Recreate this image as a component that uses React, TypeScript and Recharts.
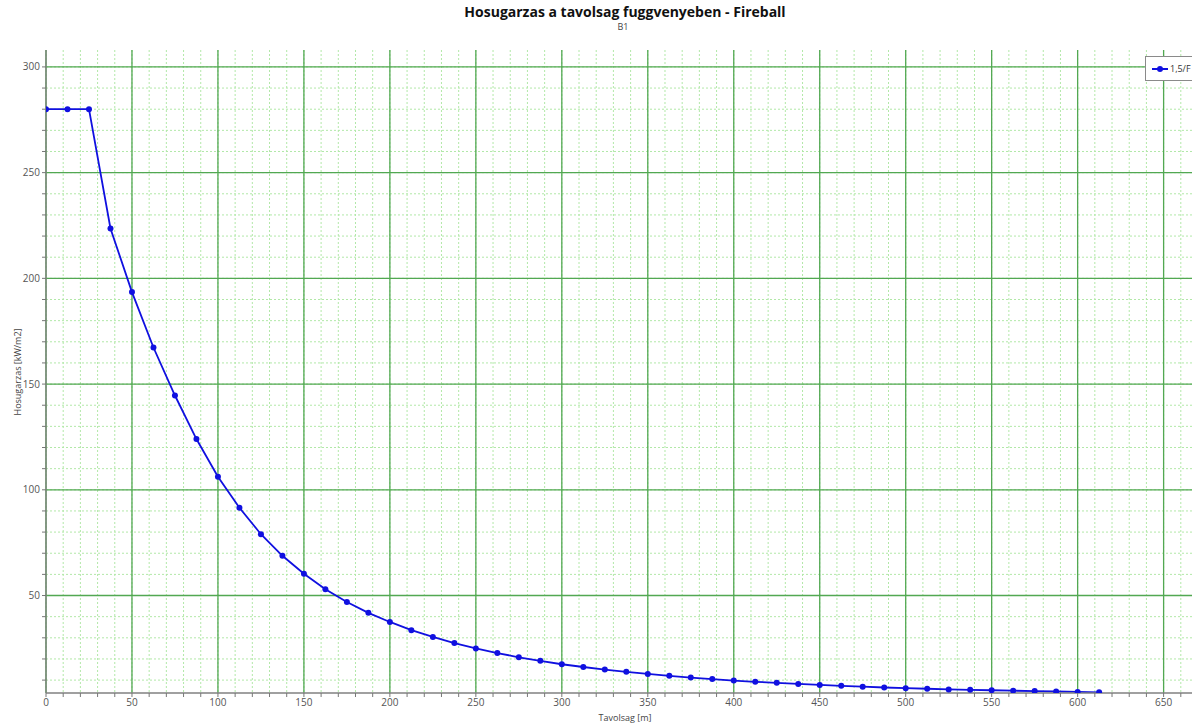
import * as React from "react";
import {
  LineChart,
  Line,
  XAxis,
  YAxis,
  CartesianGrid,
} from "recharts";

// distance [m] and heat radiation [kW/m2] for scenario 1,5/F
const distances = [
  0, 12.5, 25, 37.5, 50, 62.5, 75, 87.5, 100, 112.5,
  125, 137.5, 150, 162.5, 175, 187.5, 200, 212.5, 225, 237.5,
  250, 262.5, 275, 287.5, 300, 312.5, 325, 337.5, 350, 362.5,
  375, 387.5, 400, 412.5, 425, 437.5, 450, 462.5, 475, 487.5,
  500, 512.5, 525, 537.5, 550, 562.5, 575, 587.5, 600, 612.5,
];
const radiation = [
  280, 280, 280, 223.6, 193.5, 167.3, 144.6, 124.0, 106.2, 91.5,
  79.0, 68.8, 60.3, 53.0, 46.9, 41.8, 37.5, 33.6, 30.4, 27.5,
  25.0, 22.8, 20.8, 19.1, 17.5, 16.2, 15.0, 13.9, 12.9, 12.0,
  11.2, 10.5, 9.8, 9.2, 8.7, 8.2, 7.7, 7.3, 6.9, 6.5,
  6.2, 5.9, 5.6, 5.4, 5.2, 5.0, 4.8, 4.6, 4.4, 4.2,
];

const xMajor = [0, 50, 100, 150, 200, 250, 300, 350, 400, 450, 500, 550, 600, 650];
const yMajor = [50, 100, 150, 200, 250, 300];
const xMinor = Array.from({ length: 68 }, (_, i) => i * 10);
const yMinor = Array.from({ length: 30 }, (_, i) => (i + 1) * 10);

const seriesName = "1,5/F";
const title = "Hosugarzas a tavolsag fuggvenyeben - Fireball";
const subtitle = "B1";

const data = distances.map((d, i) => ({ d, v: radiation[i] }));

const FONT = "'Open Sans', 'Noto Sans', sans-serif";
const tickStyle = { fontSize: 10, fill: "#555", fontFamily: FONT };

export default function App() {
  return (
    <div
      style={{
        position: "absolute",
        left: 0,
        top: 0,
        width: 1192,
        height: 726,
        overflow: "hidden",
        background: "#fff",
        fontFamily: FONT,
      }}
    >
      <div style={{ position: "absolute", left: 0, width: 1250, top: 2, textAlign: "center", fontSize: 14, fontWeight: 700, color: "#111" }}>
        {title}
      </div>
      <div style={{ position: "absolute", left: 0, width: 1246, top: 20, textAlign: "center", fontSize: 9, color: "#444" }}>
        {subtitle}
      </div>

      <LineChart
        width={1260}
        height={726}
        data={data}
        margin={{ top: 50, right: 62, left: 0, bottom: 0 }}
      >
        <CartesianGrid
          stroke="#b2e8a8"
          strokeDasharray="2 2"
          verticalValues={xMinor}
          horizontalValues={yMinor}
        />
        <CartesianGrid
          stroke="#52a852"
          strokeWidth={1.3}
          verticalValues={xMajor}
          horizontalValues={yMajor}
        />
        <XAxis
          dataKey="d"
          type="number"
          domain={[0, 670]}
          ticks={xMinor}
          interval={0}
          tickFormatter={(v: number) => (v % 50 === 0 ? String(v) : "")}
          tick={tickStyle}
          tickSize={4}
          tickLine={{ stroke: "#777" }}
          axisLine={{ stroke: "#808080", strokeWidth: 1.3 }}
          height={33}
          allowDataOverflow
        />
        <XAxis
          xAxisId="top"
          orientation="top"
          type="number"
          domain={[0, 670]}
          tick={false}
          tickLine={false}
          axisLine={{ stroke: "#909090" }}
          height={0}
        />
        <YAxis
          type="number"
          domain={[3.9, 308]}
          ticks={yMinor}
          interval={0}
          tickFormatter={(v: number) => (v % 50 === 0 ? String(v) : "")}
          tick={tickStyle}
          tickSize={4}
          tickLine={{ stroke: "#777" }}
          axisLine={{ stroke: "#808080", strokeWidth: 1.3 }}
          width={46}
          allowDataOverflow
        />
        <Line
          name={seriesName}
          type="linear"
          dataKey="v"
          stroke="#1010e0"
          strokeWidth={1.8}
          dot={{ r: 3, fill: "#1010e0", stroke: "none" }}
          isAnimationActive={false}
        />
      </LineChart>

      <div
        style={{
          position: "absolute",
          left: 0,
          width: 1250,
          top: 711,
          textAlign: "center",
          fontSize: 9,
          color: "#444",
        }}
      >
        Tavolsag [m]
      </div>
      <div
        style={{
          position: "absolute",
          left: 17,
          top: 372,
          transform: "translate(-50%, -50%) rotate(-90deg)",
          fontSize: 9,
          color: "#444",
          whiteSpace: "nowrap",
        }}
      >
        Hosugarzas [kW/m2]
      </div>

      <div
        style={{
          position: "absolute",
          left: 1145,
          top: 56,
          width: 70,
          height: 25,
          border: "1px solid #8a8a8a",
          background: "#fff",
          boxSizing: "border-box",
        }}
      >
        <svg width={16} height={10} style={{ position: "absolute", left: 6, top: 7 }}>
          <line x1={0} y1={5} x2={16} y2={5} stroke="#1010e0" strokeWidth={2} />
          <circle cx={8} cy={5} r={3} fill="#1010e0" />
        </svg>
        <span style={{ position: "absolute", left: 24, top: 5, fontSize: 9, color: "#333" }}>{seriesName}</span>
      </div>
    </div>
  );
}
